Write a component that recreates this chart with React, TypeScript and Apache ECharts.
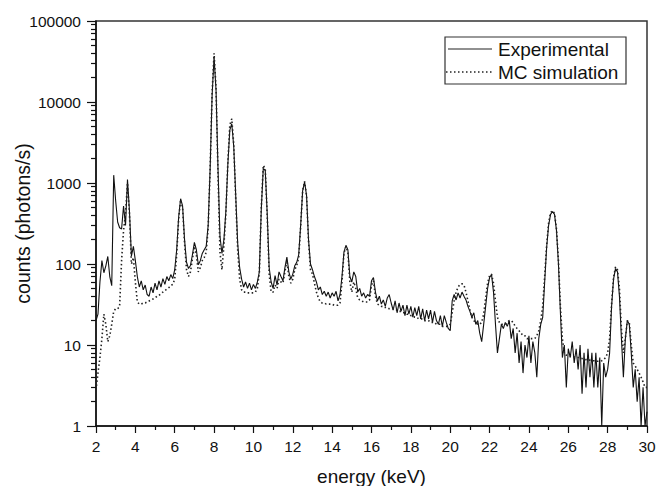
import { useEffect, useRef } from "react";
import * as echarts from "echarts";

// energy grid: first channel and channel width (keV)
const E_START = 2;
const E_STEP = 0.1;

// Experimental counts, one value per 0.1 keV from 2.0 to 30.0
const experimental = [
  20, 24, 60, 110, 78, 95, 124, 70, 54, 1250,
  600, 330, 280, 270, 520, 300, 1100, 450, 125, 165,
  110, 70, 52, 62, 48, 55, 42, 40, 52, 44,
  58, 48, 62, 52, 66, 56, 70, 62, 74, 66,
  85, 150, 380, 640, 520, 200, 105, 88, 96, 130,
  185, 150, 98, 110, 135, 150, 165, 300, 1500, 12000,
  36000, 14000, 1500, 220, 135, 200, 450, 1700, 4500, 5400,
  2800, 700, 180, 90, 65, 52, 60, 50, 58, 48,
  56, 50, 60, 80, 480, 1500, 1450, 420, 90, 60,
  50, 72, 55, 80, 70, 62, 90, 122, 80, 65,
  75, 95, 105, 130, 300, 800, 1030, 700, 200, 100,
  85, 70, 60, 48, 52, 42, 46, 40, 45, 38,
  44, 40, 46, 35, 42, 70, 140, 170, 150, 70,
  60, 80, 70, 45, 50, 40, 44, 38, 42, 40,
  62, 68, 45, 35, 40, 32, 36, 30, 38, 42,
  33, 27, 35, 25, 33, 26, 31, 23, 31, 24,
  30, 22, 29, 23, 30, 21, 28, 20, 27, 21,
  27, 19, 26, 20, 18, 23, 17, 23, 19, 16,
  15, 35, 42, 36, 44, 38, 45, 40, 36, 30,
  26, 22, 25, 18, 20, 14, 11, 18, 30, 50,
  68, 74, 45, 18, 8, 12, 18, 16, 19, 17,
  20, 12, 16, 8, 14, 6, 11, 4.5, 10, 7,
  13, 6, 11, 8, 4, 12, 18, 22, 60, 160,
  300, 410, 445, 410, 260, 100, 25, 7, 10, 3,
  9, 7, 11, 6, 9, 5, 10, 2.5, 8, 3,
  9, 4, 8, 3, 8, 3, 7, 1, 6, 4,
  5, 8, 30, 65, 88, 80, 40, 12, 4, 12,
  20, 18, 8, 3, 5, 2, 4, 1, 3, 1,
  1.5,
];

// MC simulation counts, same grid
const mcSimulation = [
  2.8, 4.5, 7, 12, 24, 18, 11, 13, 18, 26,
  28, 28, 30, 110, 260, 420, 1000, 420, 100, 120,
  60, 34, 32, 32, 33, 33, 34, 35, 36, 37,
  38, 40, 41, 43, 45, 47, 49, 51, 54, 56,
  65, 130, 360, 620, 500, 180, 85, 70, 80, 115,
  165, 130, 80, 90, 110, 120, 140, 280, 1500, 13000,
  40000, 15000, 1300, 140, 85, 170, 420, 1800, 5200, 6200,
  3000, 650, 150, 65, 48, 45, 45, 44, 44, 44,
  44, 45, 50, 78, 500, 1650, 1500, 400, 75, 45,
  45, 55, 50, 65, 60, 58, 80, 110, 70, 58,
  65, 85, 95, 120, 290, 800, 1050, 700, 190, 85,
  75, 58, 45, 38, 34, 33, 33, 32, 32, 32,
  32, 31, 31, 31, 33, 60, 135, 165, 140, 60,
  45, 60, 50, 38, 36, 35, 34, 34, 34, 36,
  55, 62, 40, 32, 31, 30, 30, 29, 29, 28,
  28, 28, 27, 27, 26, 26, 25, 25, 24, 24,
  23, 23, 22, 22, 21, 21, 21, 20, 20, 20,
  19, 19, 19, 18, 18, 18, 17, 17, 17, 17,
  18, 25, 35, 45, 52, 56, 57, 55, 45, 35,
  27, 22, 20, 19, 18, 18, 19, 24, 38, 58,
  72, 75, 58, 35, 22, 19, 18, 18, 18, 19,
  20, 20, 19, 17, 16, 15, 14, 13, 13, 12,
  12, 12, 12, 12, 13, 15, 20, 30, 70, 170,
  320, 430, 455, 420, 270, 110, 30, 12, 8, 7.5,
  7.4, 7.3, 7.2, 7.1, 7, 7, 6.9, 6.8, 6.7, 6.6,
  6.5, 6.5, 6.4, 6.4, 6.3, 6.3, 6.3, 6.4, 6.6, 7,
  8, 12, 32, 68, 92, 85, 50, 16, 8, 12,
  20, 19, 10, 6, 5.5, 5, 4.5, 4, 3.5, 3,
  3,
];

const yMajorTicks = [1, 10, 100, 1000, 10000, 100000];
const yMinorTicks = [
  2, 3, 4, 5, 6, 7, 8, 9,
  20, 30, 40, 50, 60, 70, 80, 90,
  200, 300, 400, 500, 600, 700, 800, 900,
  2000, 3000, 4000, 5000, 6000, 7000, 8000, 9000,
  20000, 30000, 40000, 50000, 60000, 70000, 80000, 90000,
];

const seriesNames = ["Experimental", "MC simulation"];
const FONT = "'Liberation Sans', Arial, Helvetica, sans-serif";

function toPairs(values: number[]) {
  return values.map((v, i) => [Number((E_START + i * E_STEP).toFixed(2)), v]);
}

export default function App() {
  const ref = useRef<HTMLDivElement>(null);
  useEffect(() => {
    if (!ref.current) return;
    const chart = echarts.init(ref.current, undefined, { renderer: "svg" });
    const axisColor = "#111";
    chart.setOption({
      animation: false,
      backgroundColor: "#fff",
      grid: {
        left: 96,
        top: 21,
        right: 10,
        bottom: 60,
        show: true,
        borderColor: "#333",
        borderWidth: 1.5,
        containLabel: false,
        outerBoundsMode: "none",
      },
      xAxis: {
        type: "value",
        min: 2,
        max: 30,
        interval: 2,
        axisLine: { show: true, onZero: false, lineStyle: { color: axisColor, width: 1.5 } },
        axisTick: { show: true, length: 7, lineStyle: { color: axisColor, width: 1.2 } },
        minorTick: { show: true, splitNumber: 2, length: 4, lineStyle: { color: axisColor, width: 1.2 } },
        splitLine: { show: false },
        minorSplitLine: { show: false },
        axisLabel: { color: axisColor, fontSize: 15.5, fontFamily: FONT, margin: 12 },
        name: "energy (keV)",
        nameLocation: "middle",
        nameGap: 41,
        nameMoveOverlap: false,
        nameTextStyle: { color: axisColor, fontSize: 19, fontFamily: FONT },
      },
      yAxis: [
        {
          type: "log",
          logBase: 10,
          min: 1,
          max: 100000,
          axisLine: { show: true, lineStyle: { color: axisColor, width: 1.5 } },
          axisTick: { show: true, length: 9, customValues: yMajorTicks, lineStyle: { color: axisColor, width: 1.2 } },
          axisLabel: {
            show: true,
            customValues: yMajorTicks,
            color: axisColor,
            fontSize: 15.5,
            fontFamily: FONT,
            margin: 15,
            formatter: (v: number) => String(Math.round(v)),
          },
          splitLine: { show: false },
          name: "counts (photons/s)",
          nameLocation: "middle",
          nameGap: 63,
          nameMoveOverlap: false,
          nameTextStyle: { color: axisColor, fontSize: 19.5, fontFamily: FONT },
        },
        {
          type: "log",
          logBase: 10,
          min: 1,
          max: 100000,
          position: "left",
          offset: 0,
          axisLine: { show: false },
          axisTick: { show: true, length: 5, customValues: yMinorTicks, lineStyle: { color: axisColor, width: 1.2 } },
          axisLabel: { show: false },
          splitLine: { show: false },
        },
      ],
      series: [
        {
          name: seriesNames[0],
          type: "line",
          data: toPairs(experimental),
          symbol: "none",
          showSymbol: false,
          lineStyle: { color: "#111", width: 1.1 },
          yAxisIndex: 0,
          z: 2,
        },
        {
          name: seriesNames[1],
          type: "line",
          data: toPairs(mcSimulation),
          symbol: "none",
          showSymbol: false,
          lineStyle: { color: "#222", width: 1.6, type: [1.5, 2.5] },
          yAxisIndex: 0,
          z: 3,
        },
      ],
      graphic: [
        {
          type: "rect",
          shape: { x: 445, y: 37, width: 181, height: 47 },
          style: { fill: "#fff", stroke: "#333", lineWidth: 1.2 },
          z: 10,
        },
        {
          type: "line",
          shape: { x1: 448, y1: 49, x2: 492, y2: 49 },
          style: { stroke: "#222", lineWidth: 1.2 },
          z: 11,
        },
        {
          type: "line",
          shape: { x1: 446, y1: 72, x2: 492, y2: 72 },
          style: { stroke: "#222", lineWidth: 1.6, lineDash: [1.5, 2.5] },
          z: 11,
        },
        {
          type: "text",
          x: 498,
          y: 49,
          style: { text: seriesNames[0], fontSize: 19, fontFamily: FONT, fill: "#111", verticalAlign: "middle" },
          z: 11,
        },
        {
          type: "text",
          x: 498,
          y: 72,
          style: { text: seriesNames[1], fontSize: 19, fontFamily: FONT, fill: "#111", verticalAlign: "middle" },
          z: 11,
        },
      ],
    });
    return () => chart.dispose();
  }, []);
  return (
    <div
      ref={ref}
      style={{ position: "fixed", left: 0, top: 0, width: 657, height: 486, background: "#fff" }}
    />
  );
}
